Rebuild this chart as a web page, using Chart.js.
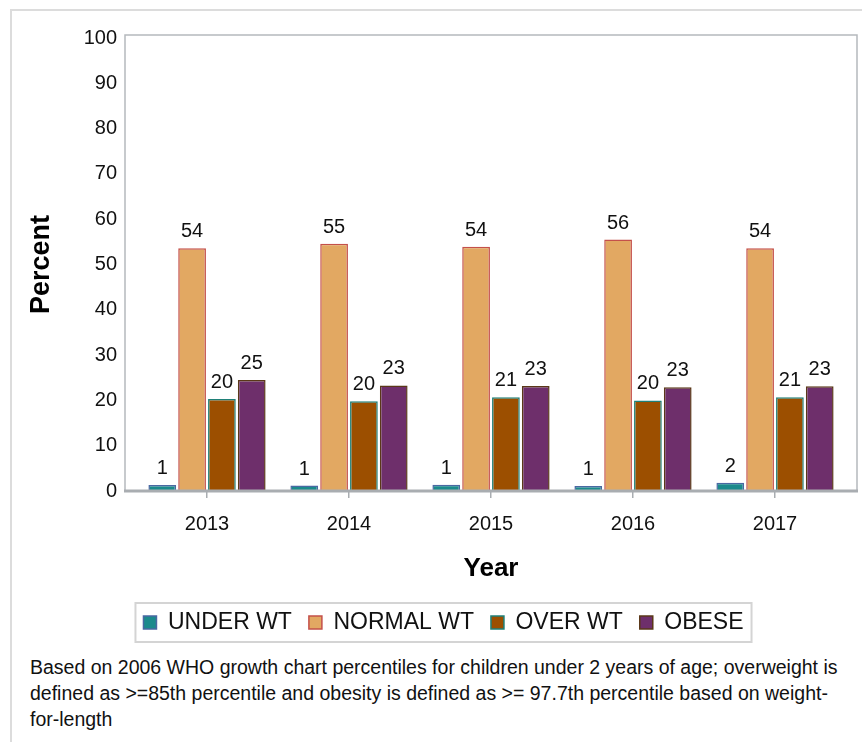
<!DOCTYPE html>
<html>
<head>
<meta charset="utf-8">
<script src="https://cdn.jsdelivr.net/npm/chart.js@4.4.1/dist/chart.umd.min.js"></script>
<style>
  html, body { margin: 0; padding: 0; background: #fff; overflow: hidden; }
  body { width: 862px; height: 742px; position: relative; font-family: "Liberation Sans", Arial, sans-serif; }
  #frame { position: absolute; left: 10px; top: 9px; width: 870px; height: 760px; border: 2px solid #dcdcdc; box-sizing: border-box; }
  #chart { position: absolute; left: 0; top: 0; }
  #note { position: absolute; left: 30px; top: 654px; font-size: 19.5px; line-height: 26px; color: #111; white-space: nowrap; }
</style>
</head>
<body>
<div id="frame"></div>
<canvas id="chart" width="862" height="650"></canvas>
<div id="note">Based on 2006 WHO growth chart percentiles for children under 2 years of age; overweight is<br>defined as &gt;=85th percentile and obesity is defined as &gt;= 97.7th percentile based on weight-<br>for-length</div>
<script>
const years = ['2013', '2014', '2015', '2016', '2017'];
const underWt = [1.3, 1.2, 1.4, 1.1, 1.8];
const normalWt = [53.6, 54.6, 53.9, 55.5, 53.6];
const overWt = [20.3, 19.8, 20.7, 20.0, 20.7];
const obese = [24.5, 23.3, 23.2, 22.9, 23.1];
const yTicks = [0, 10, 20, 30, 40, 50, 60, 70, 80, 90, 100];

const FONT = '"Liberation Sans", Arial, sans-serif';

// cadre du graphique + etiquettes des barres + bordure de la legende
const decorPlugin = {
  id: 'decor',
  beforeDatasetsDraw(chart) {
    const ctx = chart.ctx;
    const a = chart.chartArea;
    const l = a.left - 11, r = a.right + 11, t = a.top - 3, b = a.bottom;
    ctx.save();
    ctx.strokeStyle = '#b5b9bd';
    ctx.lineWidth = 1.5;
    ctx.beginPath();
    ctx.moveTo(l, b);
    ctx.lineTo(l, t);
    ctx.lineTo(r, t);
    ctx.lineTo(r, b);
    ctx.stroke();
    ctx.restore();
  },
  afterDatasetsDraw(chart) {
    const ctx = chart.ctx;
    const a = chart.chartArea;
    ctx.save();
    ctx.strokeStyle = '#a9adb1';
    ctx.lineWidth = 3;
    ctx.beginPath();
    ctx.moveTo(a.left - 12, a.bottom);
    ctx.lineTo(a.right + 12, a.bottom);
    ctx.stroke();

    ctx.fillStyle = '#111';
    ctx.font = '20px ' + FONT;
    ctx.textAlign = 'center';
    ctx.textBaseline = 'alphabetic';
    chart.data.datasets.forEach((ds, i) => {
      chart.getDatasetMeta(i).data.forEach((bar, j) => {
        ctx.fillText(String(Math.round(ds.data[j])), bar.x, bar.y - 11);
      });
    });
    ctx.restore();
  },
  afterDraw(chart) {
    const boxes = chart.legend.legendHitBoxes;
    if (!boxes || !boxes.length) return;
    const first = boxes[0];
    const last = boxes[boxes.length - 1];
    const ctx = chart.ctx;
    ctx.save();
    ctx.strokeStyle = '#d4d4d4';
    ctx.lineWidth = 2;
    ctx.strokeRect(first.left - 8, first.top - 8, last.left + last.width - first.left + 16, first.height + 16);
    ctx.restore();
  }
};

new Chart(document.getElementById('chart').getContext('2d'), {
  type: 'bar',
  data: {
    labels: years,
    datasets: [
      { label: 'UNDER WT', data: underWt, backgroundColor: '#1b8a8c', borderColor: '#4a68a2', borderWidth: 1.5 },
      { label: 'NORMAL WT', data: normalWt, backgroundColor: '#e2a862', borderColor: '#c4504a', borderWidth: 1.5 },
      { label: 'OVER WT', data: overWt, backgroundColor: '#9c4f00', borderColor: '#1f8078', borderWidth: 1.5 },
      { label: 'OBESE', data: obese, backgroundColor: '#6e2f6b', borderColor: '#5a3818', borderWidth: 1.5 },
    ],
  },
  options: {
    responsive: false,
    animation: false,
    layout: { padding: { left: 41, right: 16, top: 38, bottom: 6 } },
    categoryPercentage: 0.84,
    barPercentage: 0.93,
    scales: {
      x: {
        grid: { display: true, drawOnChartArea: false, drawTicks: true, tickLength: 7, offset: false, color: '#a9adb1', lineWidth: 1.5 },
        border: { display: false },
        ticks: { color: '#111', font: { family: FONT, size: 20 }, padding: 14 },
        title: { display: true, text: 'Year', color: '#000', font: { family: FONT, size: 26, weight: 'bold' }, padding: { top: 0, bottom: 10 } },
        afterFit(scale) { scale.height = 103; },
      },
      y: {
        min: 0,
        max: 100,
        grid: { display: false, drawTicks: false },
        border: { display: false },
        afterBuildTicks(scale) { scale.ticks = yTicks.map((v) => ({ value: v })); },
        ticks: { color: '#111', font: { family: FONT, size: 20 }, padding: 19 },
        title: { display: true, text: 'Percent', color: '#000', font: { family: FONT, size: 27, weight: 'bold', lineHeight: 0.07 }, padding: { top: 0, bottom: 0 } },
        afterFit(scale) { scale.width = 95; },
      },
    },
    plugins: {
      legend: {
        position: 'bottom',
        labels: { color: '#111', font: { family: FONT, size: 23 }, boxWidth: 13, boxHeight: 13, padding: 17 },
      },
      tooltip: { enabled: false },
    },
  },
  plugins: [decorPlugin],
});
</script>
</body>
</html>
